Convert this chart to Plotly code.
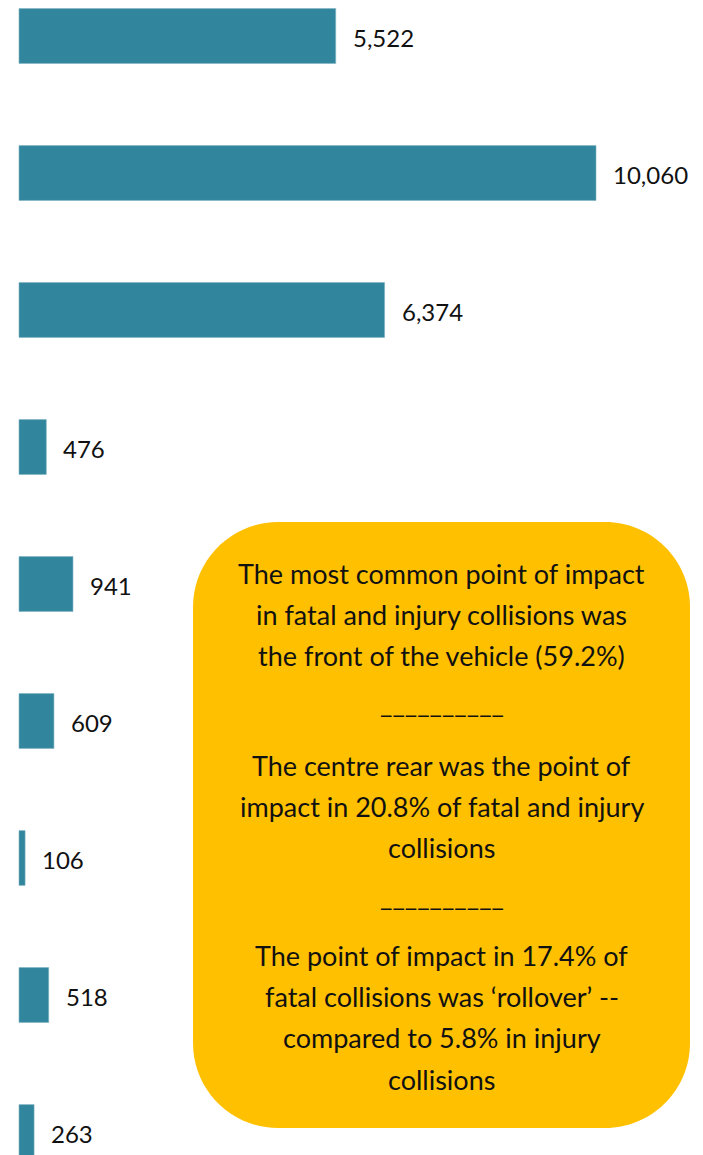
import plotly.graph_objects as go

# ---- data ----
categories = ["Cat 1", "Cat 2", "Cat 3", "Cat 4", "Cat 5", "Cat 6", "Cat 7", "Cat 8", "Cat 9"]
values = [5522, 10060, 6374, 476, 941, 609, 106, 518, 263]
box_lines = [
    "The most common point of impact",
    "in fatal and injury collisions was",
    "the front of the vehicle (59.2%)",
    "__________",
    "The centre rear was the point of",
    "impact in 20.8% of fatal and injury",
    "collisions",
    "__________",
    "The point of impact in 17.4% of",
    "fatal collisions was \u2018rollover\u2019 --",
    "compared to 5.8% in injury",
    "collisions",
]

OFF = 8  # page body margin
W, H = 703 - OFF, 1155 - OFF
BAR = "#31859C"
BOX = "#FFC000"
FONT = "Lato"

# pixel layout helpers (screen px -> figure px)
px_per_unit = 577 / 10060
x_left_px = 19 - OFF
x_range = [-x_left_px / px_per_unit, (W - x_left_px) / px_per_unit]
first_c, step = 36 - OFF, 137
y_range = [(H - first_c) / step, -first_c / step]

fig = go.Figure()
fig.add_trace(go.Bar(
    x=values, y=categories, orientation="h",
    marker=dict(color=BAR, line=dict(color="#7fb3c2", width=0.6)),
    hoverinfo="x",
))

for c, v in zip(categories, values):
    fig.add_annotation(x=v, y=c, text=f"{v:,}", showarrow=False,
                       xanchor="left", yanchor="middle", xshift=15, yshift=-1,
                       font=dict(family=FONT, size=24, color="#111111"))

# rounded rectangle callout (pixel -> paper)
bx0, bx1, by0, by1, r = 193 - OFF, 690 - OFF, 522 - OFF, 1128 - OFF, 85
k = 0.5523 * r
def P(x, y):
    return f"{x / W:.5f},{1 - y / H:.5f}"
path = (
    f"M {P(bx0 + r, by0)} L {P(bx1 - r, by0)} "
    f"C {P(bx1 - r + k, by0)} {P(bx1, by0 + r - k)} {P(bx1, by0 + r)} "
    f"L {P(bx1, by1 - r)} "
    f"C {P(bx1, by1 - r + k)} {P(bx1 - r + k, by1)} {P(bx1 - r, by1)} "
    f"L {P(bx0 + r, by1)} "
    f"C {P(bx0 + r - k, by1)} {P(bx0, by1 - r + k)} {P(bx0, by1 - r)} "
    f"L {P(bx0, by0 + r)} "
    f"C {P(bx0, by0 + r - k)} {P(bx0 + r - k, by0)} {P(bx0 + r, by0)} Z"
)
fig.add_shape(type="path", path=path, xref="paper", yref="paper",
              fillcolor=BOX, line=dict(width=0), layer="above")

line_y = [573, 614, 655, 702, 766, 806, 847, 895, 955, 996, 1037, 1079]
cx = (bx0 + bx1) / 2
for t, yy in zip(box_lines, line_y):
    fig.add_annotation(x=cx / W, y=1 - (yy - OFF) / H, xref="paper", yref="paper",
                       text=t, showarrow=False, xanchor="center", yanchor="middle",
                       font=dict(family=FONT, size=27, color="#111111"))

fig.update_layout(
    width=W, height=H,
    margin=dict(l=0, r=0, t=0, b=0),
    paper_bgcolor="white", plot_bgcolor="white",
    bargap=0.6, showlegend=False,
    xaxis=dict(range=x_range, visible=False),
    yaxis=dict(range=y_range, visible=False, type="category"),
)
fig.write_html("out.html")
